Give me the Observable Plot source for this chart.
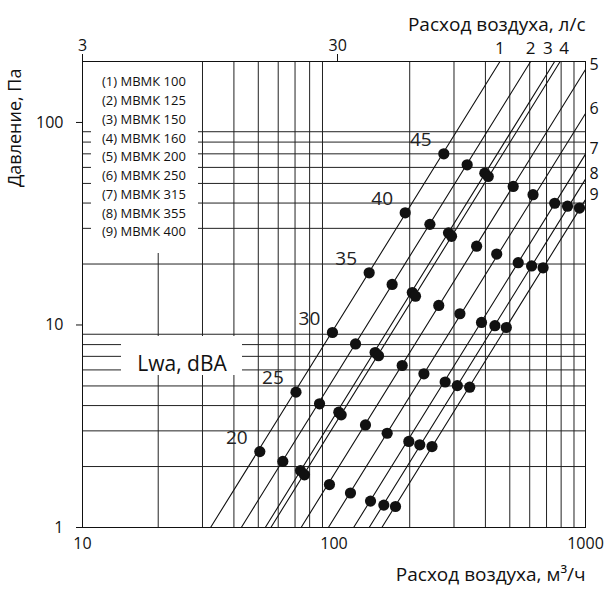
<!DOCTYPE html>
<html><head><meta charset="utf-8">
<script src="https://cdn.jsdelivr.net/npm/d3@7"></script>
<script src="https://cdn.jsdelivr.net/npm/@observablehq/plot@0.6"></script>
<style>
body{margin:0;background:#fff;}
svg{font-family:"Open Sans",sans-serif;}
</style>
</head><body><div id="chart"></div>
<script>
// Models (legend)
const models = ["МВМК 100","МВМК 125","МВМК 150","МВМК 160","МВМК 200","МВМК 250","МВМК 315","МВМК 355","МВМК 400"];
const lineNames = ["1","2","3","4","5","6","7","8","9"];
// Characteristic lines: start at P = 1 Pa, end at top / right edge
const lineQStart = [32.3, 42.8, 53.3, 56.1, 74, 95, 119.7, 138, 155];
const linePStart = [1, 1, 1, 1, 1, 1, 1, 1, 1];
const lineQEnd = [457, 605, 754, 793, 1000, 1000, 1000, 1000, 1000];
const linePEnd = [200, 200, 200, 200, 182.6, 110.8, 69.8, 52.5, 41.6];
// Noise levels, dBA
const levels = [20, 25, 30, 35, 40, 45];
// Points: air flow (m³/h) and pressure (Pa) per model, per noise level
const pointFlow = [
  [50.7, 70.6, 98.6, 138, 191.9, 273.3],
  [62.6, 87.6, 121.8, 170.3, 240.6, 338.5],
  [73.6, 104.5, 145.7, 204.8, 285.3, 397.8],
  [76.3, 106.8, 150.3, 210.9, 293.3, 410.4],
  [95.9, 133.4, 186.7, 260.9, 369, 515.8],
  [116.3, 162.7, 227.8, 316.7, 443.6, 618.5],
  [139.7, 198.4, 276.7, 385.9, 540, 754.4],
  [157.8, 219.3, 309.3, 436.3, 610.6, 848.2],
  [175.6, 245.3, 346.4, 484.3, 678.3, 946.5]
];
const pointPressure = [
  [2.37, 4.66, 9.18, 18.1, 35.8, 70.0],
  [2.12, 4.08, 8.06, 15.85, 31.4, 61.8],
  [1.91, 3.71, 7.31, 14.47, 28.5, 56.2],
  [1.82, 3.60, 7.05, 13.87, 27.4, 54.1],
  [1.63, 3.21, 6.31, 12.49, 24.5, 48.3],
  [1.48, 2.92, 5.74, 11.36, 22.4, 44.0],
  [1.35, 2.66, 5.23, 10.29, 20.3, 39.9],
  [1.29, 2.56, 5.02, 9.92, 19.56, 38.6],
  [1.27, 2.51, 4.93, 9.72, 19.16, 37.8]
];
// Axes
const xTicks = [10, 100, 1000];
const yTicks = [1, 10, 100];
const gridX = [20, 30, 40, 50, 60, 70, 80, 90, 200, 300, 400, 500, 600, 700, 800, 900];
const gridY = [2, 3, 4, 5, 6, 7, 8, 9, 20, 30, 40, 50, 60, 70, 80, 90];
const topTickLabels = ["3", "30"];          // л/с
const topTickAt = [10, 103.5];              // where they sit on the m³/h scale
const xTitle = "Расход воздуха, м³/ч";
const xTopTitle = "Расход воздуха, л/с";
const yTitle = "Давление, Па";
const lwaTitle = "Lwa, dBA";

// Build tables
const lineRows = [];
models.forEach((m, i) => {
  lineRows.push({model: m, q: lineQStart[i], p: linePStart[i]});
  lineRows.push({model: m, q: lineQEnd[i], p: linePEnd[i]});
});
const dotRows = [];
models.forEach((m, i) => levels.forEach((l, j) => dotRows.push({model: m, level: l, q: pointFlow[i][j], p: pointPressure[i][j]})));
const levelRows = levels.map((l, j) => ({level: l, q: pointFlow[0][j], p: pointPressure[0][j]}));
const endRows = lineNames.map((n, i) => ({name: n, q: lineQEnd[i], p: linePEnd[i], i}));
const topRows = topTickAt.map((q, i) => ({q, label: topTickLabels[i]}));

// Decorative white boxes (pixel offsets from the frame)
function boxes(index, scales, values, dims) {
  const g = d3.create("svg:g");
  const L = dims.marginLeft, T = dims.marginTop;
  g.append("rect").attr("x", L + 9).attr("y", T + 1).attr("width", 107).attr("height", 191).attr("fill", "white");
  g.append("rect").attr("x", L + 39).attr("y", T + 275).attr("width", 121).attr("height", 39).attr("fill", "white");
  return g.node();
}
function legend(index, scales, values, dims) {
  const g = d3.create("svg:g").attr("font-size", 13).attr("fill", "#111").attr("text-anchor", "start");
  const L = dims.marginLeft, T = dims.marginTop;
  models.forEach((m, i) => {
    g.append("text").attr("x", L + 20).attr("y", T + 20.7 + i * 18.75).attr("dy", "0.35em").text(`(${i + 1}) ${m}`);
  });
  return g.node();
}
// Top (л/с) axis ticks
function topTicks(index, scales, values, dims) {
  const g = d3.create("svg:g").attr("stroke", "#111").attr("stroke-width", 1);
  const T = dims.marginTop;
  topRows.forEach(d => {
    const x = Math.round(scales.x(d.q)) + 0.5;
    g.append("line").attr("x1", x).attr("x2", x).attr("y1", T - 7).attr("y2", T);
  });
  return g.node();
}
// Y axis title (rotated, reading upward from its first letter)
function yAxisTitle(index, scales, values, dims) {
  const L = dims.marginLeft, T = dims.marginTop;
  const t = d3.create("svg:text")
    .attr("transform", `translate(${L - 67},${T + 126}) rotate(-90)`)
    .attr("text-anchor", "start").attr("dy", "0.35em")
    .attr("font-size", 18).attr("fill", "#111").text(yTitle);
  return t.node();
}

const chart = Plot.plot({
  width: 608, height: 594,
  marginLeft: 82, marginRight: 23, marginTop: 61, marginBottom: 67,
  x: {type: "log", domain: [10, 1000]},
  y: {type: "log", domain: [1, 200]},
  style: {background: "white", color: "#111", overflow: "visible"},
  marks: [
    Plot.ruleX(gridX, {stroke: "#222", strokeWidth: 1}),
    Plot.ruleY(gridY, {stroke: "#222", strokeWidth: 1}),
    boxes,
    Plot.frame({stroke: "#111", strokeWidth: 1}),
    legend,
    Plot.axisY({ticks: yTicks, tickFormat: d => String(d), tickSize: 6, tickPadding: 13, fontSize: 16, label: null}),
    Plot.axisX({ticks: xTicks, tickFormat: d => String(d), tickSize: 0, tickPadding: 10, fontSize: 16, label: null}),
    topTicks,
    Plot.text(topRows, {x: "q", text: "label", frameAnchor: "top", dy: -22, fontSize: 16, fill: "#111"}),
    Plot.line(lineRows, {x: "q", y: "p", z: "model", stroke: "#111", strokeWidth: 1.1}),
    Plot.dot(dotRows, {x: "q", y: "p", r: 5.6, fill: "#111", stroke: "none"}),
    Plot.text(levelRows, {x: "q", y: "p", text: d => String(d.level), dx: -23, dy: -14, fontSize: 19, fill: "#222"}),
    Plot.text(endRows.filter(d => d.i < 2), {x: "q", y: "p", text: "name", dy: -13, fontSize: 17, fill: "#111"}),
    Plot.text(endRows.filter(d => d.i === 2), {x: "q", y: "p", text: "name", dy: -13, dx: -2, textAnchor: "end", fontSize: 17, fill: "#111"}),
    Plot.text(endRows.filter(d => d.i === 3), {x: "q", y: "p", text: "name", dy: -13, dx: -1, textAnchor: "start", fontSize: 17, fill: "#111"}),
    Plot.text(endRows.filter(d => d.i >= 4), {x: "q", y: "p", text: "name", dx: 4, dy: -5, textAnchor: "start", fontSize: 16, fill: "#111"}),
    Plot.text([lwaTitle], {text: d => d, frameAnchor: "top-left", textAnchor: "middle", dx: 99.5, dy: 295, fontSize: 21, fill: "#111"}),
    Plot.text([xTopTitle], {text: d => d, frameAnchor: "top-right", textAnchor: "end", dy: -44, fontSize: 19, fill: "#111"}),
    Plot.text([xTitle], {text: d => d, frameAnchor: "bottom-right", textAnchor: "end", dy: 53, fontSize: 19, fill: "#111"}),
    yAxisTitle
  ]
});
document.getElementById("chart").append(chart);
</script>
</body></html>
